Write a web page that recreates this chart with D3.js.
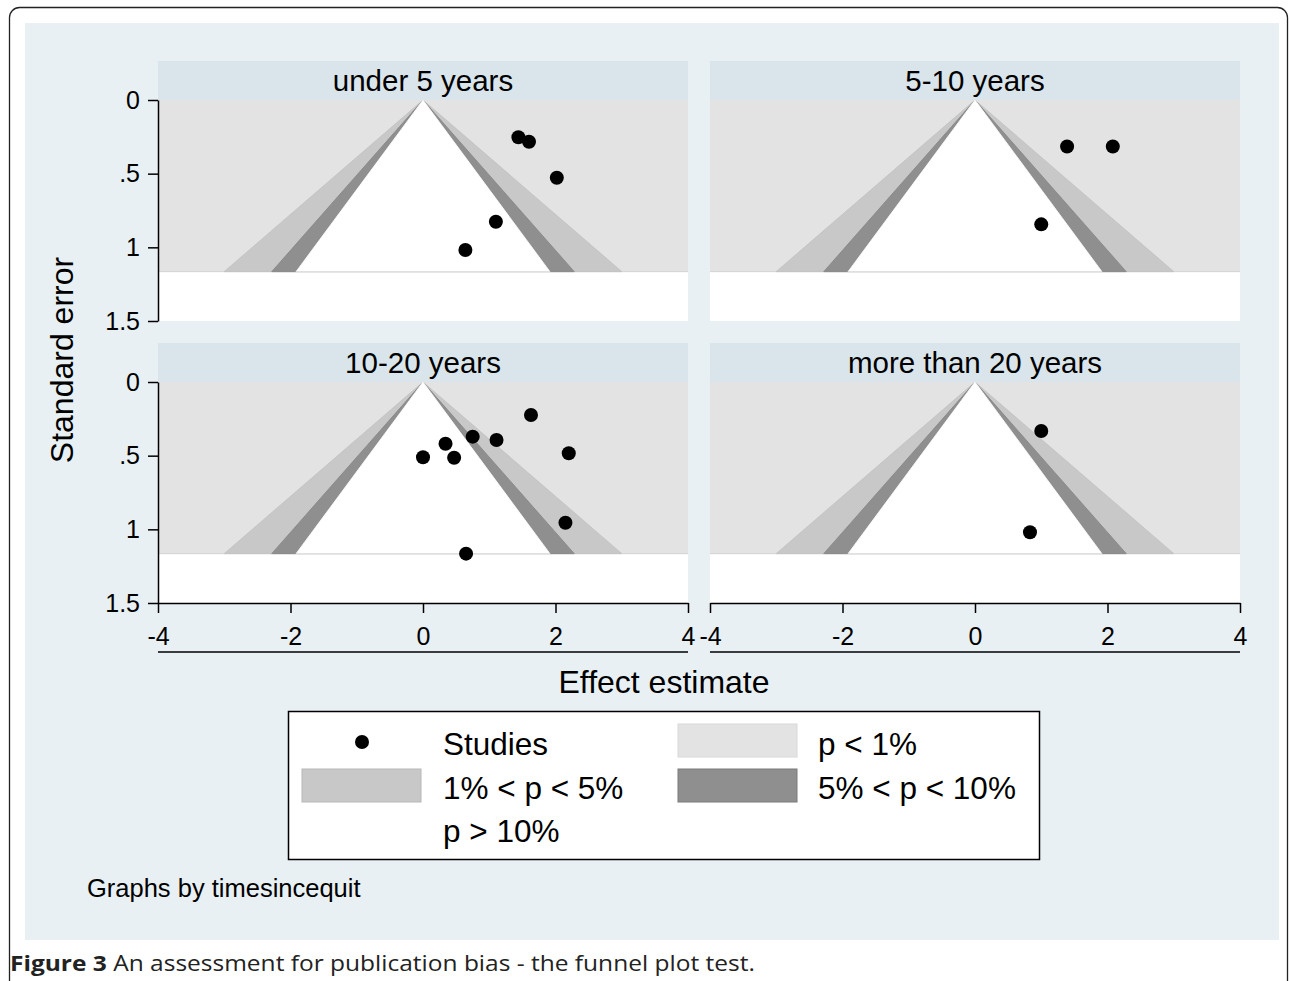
<!DOCTYPE html>
<html><head><meta charset="utf-8">
<script src="https://cdn.jsdelivr.net/npm/d3@7"></script>
<style>
body{margin:0;background:#fff;}
svg text{font-family:"Liberation Sans",Arial,Helvetica,sans-serif;fill:#000;}
</style>
</head><body>
<svg id="chart" width="1290" height="981"></svg>
<script>
// ---- data ----
const panelTitles = ["under 5 years", "5-10 years", "10-20 years", "more than 20 years"];
const effectUnder5 = [1.44, 1.60, 2.02, 1.10, 0.64];
const seUnder5     = [0.253, 0.283, 0.528, 0.826, 1.018];
const effect5to10  = [1.39, 2.08, 1.00];
const se5to10      = [0.316, 0.316, 0.844];
const effect10to20 = [1.63, 0.34, 0.75, 1.11, 0.00, 0.47, 2.20, 2.15, 0.65];
const se10to20     = [0.224, 0.419, 0.371, 0.394, 0.511, 0.514, 0.484, 0.955, 1.165];
const effectOver20 = [1.00, 0.83];
const seOver20     = [0.333, 1.02];
const xTicks = [-4, -2, 0, 2, 4];
const xTickLabels = ["-4", "-2", "0", "2", "4"];
const yTicks = [0, 0.5, 1, 1.5];
const yTickLabels = ["0", ".5", "1", "1.5"];
const contourZ = [2.576, 1.96, 1.645];          // 1%, 5%, 10% two-sided
const legendLabels = ["Studies", "p < 1%", "1% < p < 5%", "5% < p < 10%", "p > 10%"];
const xTitle = "Effect estimate";
const yTitle = "Standard error";
const byNote = "Graphs by timesincequit";
const captionBold = "Figure 3";
const captionRest = " An assessment for publication bias - the funnel plot test.";

// ---- style ----
const C = {
  outer: "#e8f0f3", strip: "#d9e5eb", p1: "#e3e3e3", p5: "#c8c8c8", p10: "#8f8f8f", ns: "#ffffff"
};
const bandFill = [C.p5, C.p10, C.ns];
const bandStroke = ["#c0c0c0", "#858585", "#ffffff"];

const svg = d3.select("#chart");

// frame + graph region
svg.append("rect").attr("x", 9.5).attr("y", 7.5).attr("width", 1278).attr("height", 1000)
  .attr("rx", 10).attr("fill", "#fff").attr("stroke", "#222").attr("stroke-width", 1.3);
svg.append("rect").attr("x", 25).attr("y", 23).attr("width", 1254).attr("height", 917).attr("fill", C.outer);

const panelData = [
  {effect: effectUnder5, se: seUnder5},
  {effect: effect5to10, se: se5to10},
  {effect: effect10to20, se: se10to20},
  {effect: effectOver20, se: seOver20}
];
const seMax = d3.max(panelData.flatMap(p => p.se));

const colLeft = [158, 710], plotW = 530;
const rowTop = [100, 382], plotH = 221, stripH = 39;

panelData.forEach((p, i) => {
  const col = i % 2, row = Math.floor(i / 2);
  const L = colLeft[col], T = rowTop[row];
  const x = d3.scaleLinear().domain([-4, 4]).range([L, L + plotW]);
  const y = d3.scaleLinear().domain([0, 1.5]).range([T, T + plotH]);
  const g = svg.append("g");

  // plot region
  g.append("rect").attr("x", x(-4)).attr("y", y(0)).attr("width", x(4) - x(-4)).attr("height", y(1.5) - y(0)).attr("fill", "#fff");
  g.append("rect").attr("x", x(-4)).attr("y", y(0)).attr("width", x(4) - x(-4)).attr("height", y(seMax) - y(0))
    .attr("fill", C.p1);
  g.append("line").attr("x1", x(-4)).attr("x2", x(4)).attr("y1", y(seMax)).attr("y2", y(seMax))
    .attr("stroke", "#d2d2d2").attr("stroke-width", 1);
  contourZ.forEach((z, k) => {
    const pts = [[0, 0], [-z * seMax, seMax], [z * seMax, seMax]].map(d => [x(d[0]), y(d[1])]);
    g.append("path").attr("d", d3.line()(pts) + "Z").attr("fill", bandFill[k])
      .attr("stroke", bandStroke[k]).attr("stroke-width", 0.8).attr("stroke-linejoin", "round");
  });
  g.append("line").attr("x1", x(-contourZ[2] * seMax)).attr("x2", x(contourZ[2] * seMax))
    .attr("y1", y(seMax)).attr("y2", y(seMax)).attr("stroke", "#dcdcdc").attr("stroke-width", 1);

  // strip
  g.append("rect").attr("x", x(-4)).attr("y", y(0) - stripH).attr("width", x(4) - x(-4)).attr("height", stripH).attr("fill", C.strip);
  g.append("text").attr("x", x(0)).attr("y", y(0) - 9).attr("text-anchor", "middle")
    .attr("font-size", 29.5).text(panelTitles[i]);

  // points
  g.selectAll("circle").data(p.effect.map((e, j) => [e, p.se[j]])).enter().append("circle")
    .attr("cx", d => x(d[0])).attr("cy", d => y(d[1])).attr("r", 7).attr("fill", "#000");

  // axes
  if (col === 0) {
    const ax = g.append("g").attr("transform", `translate(${x(-4)},0)`)
      .call(d3.axisLeft(y).tickValues(yTicks).tickFormat((d, j) => yTickLabels[j]).tickSize(10).tickSizeOuter(0).tickPadding(8));
    ax.selectAll("path,line").attr("stroke", "#000").attr("stroke-width", 1.5);
    ax.selectAll("text").attr("font-size", 25).attr("fill", "#000");
  }
  if (row === 1) {
    const ax = g.append("g").attr("transform", `translate(0,${y(1.5)})`)
      .call(d3.axisBottom(x).tickValues(xTicks).tickFormat((d, j) => xTickLabels[j]).tickSize(10).tickSizeOuter(0).tickPadding(14));
    ax.selectAll("path,line").attr("stroke", "#000").attr("stroke-width", 1.5);
    ax.selectAll("text").attr("font-size", 25).attr("fill", "#000");
    g.append("line").attr("x1", x(-4)).attr("x2", x(4)).attr("y1", y(1.5) + 49).attr("y2", y(1.5) + 49)
      .attr("stroke", "#000").attr("stroke-width", 1.5);
  }
});

// axis titles
svg.append("text").attr("x", 664).attr("y", 693).attr("text-anchor", "middle").attr("font-size", 32).text(xTitle);
svg.append("text").attr("transform", "translate(73,360) rotate(-90)").attr("text-anchor", "middle").attr("font-size", 32).text(yTitle);

// legend
const lg = svg.append("g");
lg.append("rect").attr("x", 288.5).attr("y", 711.5).attr("width", 751).attr("height", 148)
  .attr("fill", "#fff").attr("stroke", "#000").attr("stroke-width", 1.5);
lg.append("circle").attr("cx", 362).attr("cy", 742).attr("r", 7).attr("fill", "#000");
const sw = [
  {x: 678, y: 724, fill: C.p1, stroke: "#d8d8d8"},
  {x: 302, y: 769, fill: C.p5, stroke: "#b8b8b8"},
  {x: 678, y: 769, fill: C.p10, stroke: "#7a7a7a"}
];
sw.forEach(s => lg.append("rect").attr("x", s.x).attr("y", s.y).attr("width", 119).attr("height", 33)
  .attr("fill", s.fill).attr("stroke", s.stroke).attr("stroke-width", 1));
const lt = [[443, 755], [818, 755], [443, 799], [818, 799], [443, 842]];
legendLabels.forEach((t, i) => lg.append("text").attr("x", lt[i][0]).attr("y", lt[i][1]).attr("font-size", 31.5).text(t));

svg.append("text").attr("x", 87).attr("y", 897).attr("font-size", 25.5).text(byNote);

// caption (horizontally widened to match the reference's proportions)
const capG = svg.append("g");
const cap = capG.append("text").attr("x", 0).attr("y", 0).attr("font-size", 21.5)
  .style("font-family", "'Open Sans','Noto Sans',sans-serif");
cap.append("tspan").attr("font-weight", "bold").attr("fill", "#222").text(captionBold);
cap.append("tspan").attr("fill", "#222").text(captionRest);
const capW = cap.node().getComputedTextLength();
const capScale = 745 / capW;
capG.attr("transform", `translate(10,971) scale(${capScale},1)`);
</script>
</body></html>
